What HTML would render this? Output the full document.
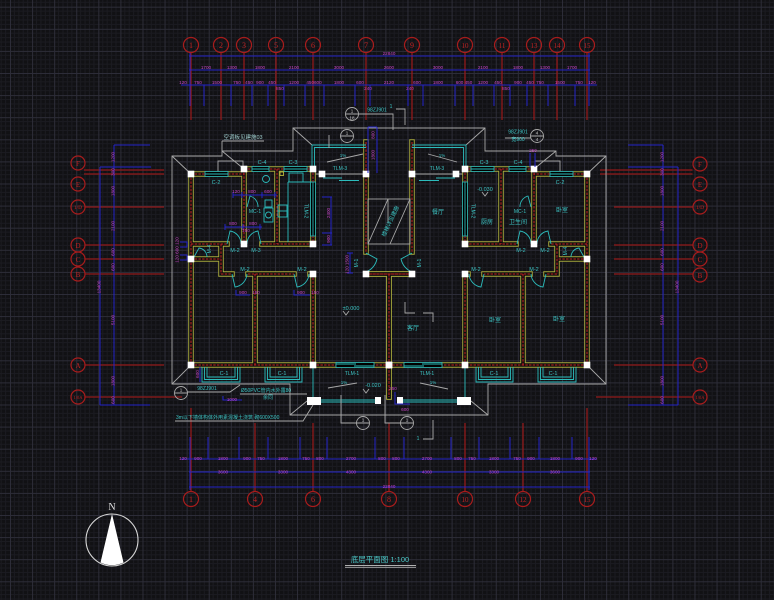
<!DOCTYPE html>
<html><head><meta charset="utf-8">
<style>
html,body{margin:0;padding:0;background:#111114;width:774px;height:600px;overflow:hidden}
svg{display:block}
.ac{fill:none;stroke:#a81c1c;stroke-width:1.2}
.al{stroke:#921a1a;stroke-width:1.3;fill:none}
.at{fill:#c02222;font-family:"Liberation Serif",serif;font-size:8px;text-anchor:middle}
.bl{stroke:#2424c8;stroke-width:1;fill:none}
.mg{fill:#c444c4;font-family:"Liberation Sans",sans-serif;font-size:4.6px;text-anchor:middle}
.cy{fill:#3cc4c4;font-family:"Liberation Sans","Noto Sans CJK SC",sans-serif;font-size:5.5px;text-anchor:middle}
.cw{fill:none;stroke:#2cbcbc;stroke-width:0.9}
.gr{fill:none;stroke:#a8a8a8;stroke-width:0.9}
.gt{fill:#d0d0d0;font-family:"Liberation Sans",sans-serif;font-size:4.5px;text-anchor:middle}
</style></head><body>
<svg width="774" height="600" viewBox="0 0 774 600" xmlns="http://www.w3.org/2000/svg">
<defs>
<pattern id="g" x="10" y="6.7" width="22.08" height="22.1" patternUnits="userSpaceOnUse">
<path d="M4.42,0V22.1M8.83,0V22.1M13.25,0V22.1M17.66,0V22.1M0,4.42H22.08M0,8.84H22.08M0,13.26H22.08M0,17.68H22.08" stroke="#1b1b21" stroke-width="1"/>
<path d="M0.5,0V22.1M0,0.5H22.08" stroke="#2d2d38" stroke-width="1"/>
</pattern>
<path id="wp" d="M191,174V365 M191,174H244 M244,169V244 M244,169H313 M277,169V244 M313,169V244 M313,274V365 M191,244H227 M262,244H313 M221,244V274 M191,259H221 M221,274H232 M248,274H294 M310,274H313 M255,274V365 M191,365H313 M366,142V252 M366,274H412 M389,274V397 M313,365H389"/>
</defs>
<rect width="774" height="600" fill="#111114"/>
<rect width="774" height="600" fill="url(#g)"/>

<!-- ===== Axis: top ===== -->
<g>
<path class="al" d="M191,52.5V120M221,52.5V120M244,52.5V120M276,52.5V120M313,52.5V120M366,52.5V120M412,52.5V120M465,52.5V120M502,52.5V120M534,52.5V120M557,52.5V120M587,52.5V120"/>
<g class="ac">
<circle cx="191" cy="45" r="7.5"/><circle cx="221" cy="45" r="7.5"/><circle cx="244" cy="45" r="7.5"/><circle cx="276" cy="45" r="7.5"/><circle cx="313" cy="45" r="7.5"/><circle cx="366" cy="45" r="7.5"/><circle cx="412" cy="45" r="7.5"/><circle cx="465" cy="45" r="7.5"/><circle cx="502" cy="45" r="7.5"/><circle cx="534" cy="45" r="7.5"/><circle cx="557" cy="45" r="7.5"/><circle cx="587" cy="45" r="7.5"/>
</g>
<g class="at">
<text x="191" y="48">1</text><text x="221" y="48">2</text><text x="244" y="48">3</text><text x="276" y="48">5</text><text x="313" y="48">6</text><text x="366" y="48">7</text><text x="412" y="48">9</text><text x="465" y="48" font-size="7">10</text><text x="502" y="48" font-size="7">11</text><text x="534" y="48" font-size="7">13</text><text x="557" y="48" font-size="7">14</text><text x="587" y="48" font-size="7">15</text>
</g>
</g>

<!-- ===== Axis: bottom ===== -->
<g>
<path class="al" d="M191,408V491.5M255,423V491.5M313,423V491.5M389,423V491.5M465,423V491.5M523,423V491.5M587,408V491.5"/>
<g class="ac">
<circle cx="191" cy="499" r="7.5"/><circle cx="255" cy="499" r="7.5"/><circle cx="313" cy="499" r="7.5"/><circle cx="389" cy="499" r="7.5"/><circle cx="465" cy="499" r="7.5"/><circle cx="523" cy="499" r="7.5"/><circle cx="587" cy="499" r="7.5"/>
</g>
<g class="at">
<text x="191" y="502">1</text><text x="255" y="502">4</text><text x="313" y="502">6</text><text x="389" y="502">8</text><text x="465" y="502" font-size="7">10</text><text x="523" y="502" font-size="7">12</text><text x="587" y="502" font-size="7">15</text>
</g>
</g>

<!-- ===== Axis: left ===== -->
<g>
<path class="al" d="M84,170H164M84,174H164M85.5,207H164M85,245H164M85,259H164M85,274H164M85.5,365H164M85.5,397H182"/>
<g class="ac">
<circle cx="78" cy="163" r="7"/><circle cx="78" cy="184" r="7"/><circle cx="78" cy="207" r="7"/><circle cx="78" cy="245" r="7"/><circle cx="78" cy="259" r="7"/><circle cx="78" cy="274" r="7"/><circle cx="78" cy="365" r="7"/><circle cx="78" cy="397" r="7"/>
</g>
<g class="at" font-size="7">
<text x="78" y="166" font-size="7">F</text><text x="78" y="187" font-size="7">E</text><text x="78" y="209" font-size="5.5">1/D</text><text x="78" y="248" font-size="7">D</text><text x="78" y="262" font-size="7">C</text><text x="78" y="277" font-size="7">B</text><text x="78" y="368" font-size="7">A</text><text x="78" y="399" font-size="4.6">1/0A</text>
</g>
</g>

<!-- ===== Axis: right ===== -->
<g>
<path class="al" d="M600,170H692.5M600,174H692.5M614,207H692.5M614,245H693M614,259H693M614,274H693M614,365H692.5M596,397H692.5"/>
<g class="ac">
<circle cx="700" cy="164" r="7"/><circle cx="700" cy="184" r="7"/><circle cx="700" cy="207" r="7"/><circle cx="700" cy="245" r="7"/><circle cx="700" cy="259" r="7"/><circle cx="700" cy="275" r="7"/><circle cx="700" cy="365" r="7"/><circle cx="700" cy="397" r="7"/>
</g>
<g class="at">
<text x="700" y="167" font-size="7">F</text><text x="700" y="187" font-size="7">E</text><text x="700" y="209" font-size="5.5">1/D</text><text x="700" y="248" font-size="7">D</text><text x="700" y="262" font-size="7">C</text><text x="700" y="278" font-size="7">B</text><text x="700" y="368" font-size="7">A</text><text x="700" y="399" font-size="4.6">1/0A</text>
</g>
</g>

<!-- ===== Dimensions top ===== -->
<path class="bl" d="M189,56H590M189,70H590M181,85H597M190,53V106M589,53V106M204,85V106M231,85V106M252,85V106M268,85V106M284,85V106M305,85V106M324,85V106M355,85V106M370,85V106M408,85V106M423,85V106M455,85V106M473,85V106M494,85V106M510,85V106M527,85V106M548,85V106M575,85V106"/>
<g class="mg">
<text x="389" y="55">22840</text>
<text x="206" y="69">1700</text><text x="232" y="69">1300</text><text x="260" y="69">1800</text><text x="294" y="69">2100</text><text x="339" y="69">3000</text><text x="389" y="69">2600</text><text x="438" y="69">3000</text><text x="483" y="69">2100</text><text x="518" y="69">1800</text><text x="545" y="69">1300</text><text x="572" y="69">1700</text>
<text x="183" y="84">120</text><text x="198" y="84">750</text><text x="217" y="84">1500</text><text x="237" y="84">750</text><text x="249" y="84">450</text><text x="260" y="84">900</text><text x="272" y="84">450</text><text x="294" y="84">1200</text><text x="314" y="84">450600</text><text x="339" y="84">1800</text><text x="360" y="84">600</text><text x="389" y="84">2120</text><text x="417" y="84">600</text><text x="438" y="84">1800</text><text x="464" y="84">600 450</text><text x="483" y="84">1200</text><text x="498" y="84">450</text><text x="518" y="84">900</text><text x="530" y="84">450</text><text x="540" y="84">750</text><text x="560" y="84">1500</text><text x="579" y="84">750</text><text x="592" y="84">120</text>
<text x="280" y="90">850</text><text x="368" y="90">240</text><text x="410" y="90">240</text><text x="506" y="90">850</text>
</g>

<!-- ===== Dimensions bottom ===== -->
<path class="bl" d="M181,459H597M189,472H590M189,487H590M190,437V490M589,437V490M208,437V459M239,437V459M268,437V459M300,437V459M327,437V459M375,437V459M404,437V459M451,437V459M479,437V459M510,437V459M539,437V459M572,437V459"/>
<g class="mg">
<text x="183" y="460">120</text><text x="198" y="460">900</text><text x="223" y="460">1800</text><text x="247" y="460">900</text><text x="261" y="460">750</text><text x="283" y="460">1800</text><text x="306" y="460">750</text><text x="320" y="460">800</text><text x="351" y="460">2700</text><text x="382" y="460">800</text><text x="396" y="460">800</text><text x="427" y="460">2700</text><text x="458" y="460">800</text><text x="472" y="460">750</text><text x="494" y="460">1800</text><text x="517" y="460">750</text><text x="531" y="460">900</text><text x="555" y="460">1800</text><text x="579" y="460">900</text><text x="593" y="460">120</text>
<text x="223" y="473.5">3600</text><text x="283" y="473.5">3300</text><text x="351" y="473.5">4300</text><text x="427" y="473.5">4300</text><text x="494" y="473.5">3300</text><text x="555" y="473.5">3600</text>
<text x="389" y="488">22840</text>
</g>

<!-- ===== Dimensions left / right ===== -->
<path class="bl" d="M100,167V405M114,145V405M114,145H150M100,167H151M100,405H150 M663,145V405M678,167V405M628,145H663M628,167H678M628,405H678"/>
<g class="mg">
<text transform="translate(114.6,157) rotate(-90)">1200</text>
<text transform="translate(114.6,172) rotate(-90)">300</text>
<text transform="translate(114.6,191) rotate(-90)">1800</text>
<text transform="translate(114.6,226) rotate(-90)">2100</text>
<text transform="translate(114.6,252) rotate(-90)">600</text>
<text transform="translate(114.6,267) rotate(-90)">600</text>
<text transform="translate(114.6,320) rotate(-90)">5100</text>
<text transform="translate(114.6,381) rotate(-90)">1800</text>
<text transform="translate(114.6,400) rotate(-90)">600</text>
<text transform="translate(100.6,287) rotate(-90)">13400</text>
<text transform="translate(663.6,157) rotate(-90)">1200</text>
<text transform="translate(663.6,172) rotate(-90)">300</text>
<text transform="translate(663.6,191) rotate(-90)">1800</text>
<text transform="translate(663.6,226) rotate(-90)">2100</text>
<text transform="translate(663.6,252) rotate(-90)">600</text>
<text transform="translate(663.6,267) rotate(-90)">600</text>
<text transform="translate(663.6,320) rotate(-90)">5100</text>
<text transform="translate(663.6,381) rotate(-90)">1800</text>
<text transform="translate(663.6,400) rotate(-90)">600</text>
<text transform="translate(678.6,287) rotate(-90)">13400</text>
</g>

<!-- ===== Roof / outline (gray) ===== -->
<g id="OL" class="gr">
<path d="M389,128H293V151H222V156H172V384H290V415H389 M172,156L191,174 M222,151L244,169 M293,128L312,145 M172,384L191,365 M290,415L307,401"/>
<rect x="218" y="161" width="25" height="12"/>
<path d="M313,174H366"/>
</g>
<use href="#OL" transform="matrix(-1,0,0,1,778,0)"/>

<!-- ===== Walls ===== -->
<g fill="none" stroke-linecap="square">
<use href="#wp" stroke="#a6a83c" stroke-width="5.5"/>
<use href="#wp" stroke="#a6a83c" stroke-width="5.5" transform="matrix(-1,0,0,1,778,0)"/>
<use href="#wp" stroke="#0c0c0d" stroke-width="3.6"/>
<use href="#wp" stroke="#0c0c0d" stroke-width="3.6" transform="matrix(-1,0,0,1,778,0)"/>
<use href="#wp" stroke="#c82222" stroke-width="1" stroke-dasharray="2.5,1.2" stroke-linecap="butt"/>
<use href="#wp" stroke="#c82222" stroke-width="1" stroke-dasharray="2.5,1.2" stroke-linecap="butt" transform="matrix(-1,0,0,1,778,0)"/>
</g>

<!-- ===== Mirrored fixtures: windows, doors, columns ===== -->
<g id="FX">
<g fill="#000" stroke="#2cbcbc" stroke-width="0.8">
<rect x="205" y="171.5" width="23" height="5"/>
<rect x="252" y="166.5" width="17" height="5"/>
<rect x="284" y="166.5" width="23" height="5"/>
<rect x="310.5" y="182" width="5" height="54"/>
<rect x="336" y="362.5" width="38" height="5"/>
</g>
<path class="cw" d="M205,174H228M252,169H269M284,169H307M313,182V236M336,364H356M354,366H374M323,178H342M339,180.5H359"/>
<path class="cw" d="M312,169V145H366M314.5,169V147.5H366"/>
<path class="cw" d="M202,367V382H240V367M204.5,367V379.5H237.5V367M207,367V377H235V367"/>
<path class="cw" d="M265,367V382H302V367M267.5,367V379.5H299.5V367M270,367V377H297V367"/>
<path class="cw" d="M313,367V398M321,400H376M321,402H376"/>
<path class="cw" d="M227,244L230,231A13,13 0 0,1 241,244M261,244L258,231A13,13 0 0,0 247,244M247,207L250,196A11,11 0 0,1 258,207M194,257L199,248A9,9 0 0,1 207,257M232,274L235,287A14,14 0 0,0 247,274M294,274L297,287A14,14 0 0,0 309,274M366,253L377,259A19,19 0 0,1 366,272"/>
<g fill="#fff">
<rect x="187.7" y="170.7" width="6.6" height="6.6"/><rect x="240.7" y="165.7" width="6.6" height="6.6"/><rect x="309.7" y="165.7" width="6.6" height="6.6"/><rect x="318.7" y="170.7" width="6.6" height="6.6"/><rect x="362.7" y="170.7" width="6.6" height="6.6"/>
<rect x="187.7" y="255.7" width="6.6" height="6.6"/><rect x="240.7" y="240.7" width="6.6" height="6.6"/><rect x="309.7" y="240.7" width="6.6" height="6.6"/><rect x="309.7" y="270.7" width="6.6" height="6.6"/><rect x="362.7" y="270.7" width="6.6" height="6.6"/>
<rect x="187.7" y="361.7" width="6.6" height="6.6"/><rect x="309.7" y="361.7" width="6.6" height="6.6"/><rect x="385.7" y="361.7" width="6.6" height="6.6"/>
<rect x="307" y="397" width="14" height="8"/><rect x="375" y="397" width="6" height="7"/>
</g>
</g>
<use href="#FX" transform="matrix(-1,0,0,1,778,0)"/>

<!-- left kitchen / bath fixtures -->
<g class="cw">
<circle cx="266" cy="179" r="3.5"/>
<rect x="265" y="200" width="7" height="7"/>
<rect x="264" y="208" width="9" height="14"/><circle cx="268.5" cy="215" r="3"/>
<rect x="278" y="205" width="9" height="12"/><path d="M278,211H287"/>
<rect x="289" y="173" width="14" height="9"/><path d="M288,182V242M288,182H312"/>
</g>
<rect x="280" y="172" width="3.5" height="3.5" fill="none" stroke="#c8c83c" stroke-width="0.8"/>

<!-- stair -->
<g class="gr">
<rect x="368" y="199" width="42" height="45"/>
<path d="M368,244L388,199M390,244L410,199M388,199V223"/>
</g>
<text class="cy" font-size="4.8" transform="translate(392,222) rotate(-65)">楼梯详见建施</text>

<!-- interior blue dims -->
<path class="bl" d="M233,195H277M233,192V198M242,192V198M262,192V198M275,192V198 M225,227H262M225,224V230M243,224V230M260,224V230 M180,242H187V247H180M180,255H187V260H180 M236,290V295H250M294,290V295H310 M223,396V400H242 M200,367V382 M331,197V245M322,197H332M322,233H332M322,245H332 M368,127V173M377,127V173M368,127H377 M350,253V273M347,253H353M347,273H353 M530,153V167M535,153V167 M395,392V404H410"/>
<g class="mg">
<text x="236" y="193">120</text><text x="252" y="193">800</text><text x="268" y="193">600</text>
<text x="233" y="225">800</text><text x="253" y="225">800</text><text x="246" y="232">150</text>
<text transform="translate(178.5,250) rotate(-90)">120 600 120</text>
<text x="243" y="294">900</text><text x="256" y="294">150</text><text x="301" y="294">900</text><text x="315" y="294">150</text>
<text x="232" y="401">1000</text>
<text transform="translate(199,374) rotate(-90)">600</text>
<text transform="translate(330,213) rotate(-90)">2400</text>
<text transform="translate(330,239) rotate(-90)">900</text>
<text transform="translate(374.5,135) rotate(-90)">800</text>
<text transform="translate(374.5,155) rotate(-90)">1800</text>
<text transform="translate(348.5,260) rotate(-90)">1500</text>
<text transform="translate(348.5,270) rotate(-90)">120</text>
<text x="533" y="152">250</text>
<text x="393" y="390">250</text><text x="405" y="411">600</text>
</g>

<!-- markers / leaders -->
<g class="gr">
<circle cx="352" cy="114" r="6.5"/><path d="M345.5,114H358.5M358.5,114H393V130M396,109H405V125"/>
<circle cx="347" cy="136" r="6.5"/><path d="M340.5,136H353.5M329,135V148"/>
<circle cx="537" cy="136" r="6.5"/><path d="M530.5,136H543.5M505,138H530.5"/>
<circle cx="181" cy="393" r="6.5"/><path d="M174.5,393H187.5M187.5,392H230L240,385"/>
<circle cx="363" cy="423" r="6.5"/><path d="M356.5,423H369.5M341,395V423H356.5"/>
<circle cx="407" cy="423" r="6.5"/><path d="M400.5,423H413.5M385,395V423H400.5"/>
<path d="M423,439H433V420"/>
<path d="M222,141H264M222,141V151"/>
<path d="M175,421H303L313,405"/>
<path d="M240,394H307"/>
<path d="M328,388L357,383M420,383L448,389M327,162L363,154M428,154L457,162"/>
<path d="M405,302V313H415M423,313H433V322"/>
<path d="M343,311L346,315L349,311M482,192L485,196L488,192M363,389L366,393L369,389"/>
</g>
<g class="gt">
<text x="352" y="112.5">1</text><text x="352" y="119.5">18</text>
<text x="347" y="134.5">1</text>
<text x="537" y="134.5">4</text><text x="537" y="141">4</text>
<text x="181" y="391.5">1</text>
<text x="363" y="421.5">1</text><text x="407" y="421.5">1</text>
</g>

<!-- labels -->
<g class="cy">
<text x="243" y="139" fill="#9ccaca">空调板见建施03</text>
<text x="377" y="111.5" font-size="5">98ZJ901</text><text x="391" y="108" font-size="5">1</text>
<text x="518" y="133.5" font-size="5">98ZJ901</text><text x="518" y="141" font-size="5">宽900</text>
<text x="262" y="164">C-4</text><text x="293" y="164">C-3</text><text x="216" y="184">C-2</text>
<text x="255" y="213" font-size="5">MC-1</text>
<text transform="translate(304.5,211) rotate(90)" font-size="5">TLM-2</text>
<text x="235" y="252">M-2</text><text x="256" y="252">M-3</text>
<text transform="translate(211,249) rotate(-90)" font-size="5">M-4</text>
<text x="340" y="170" font-size="5">TLM-3</text><text x="437" y="170" font-size="5">TLM-3</text>
<text x="245" y="271">M-2</text><text x="302" y="271">M-2</text>
<text transform="translate(358,263) rotate(-90)" font-size="5">M-1</text>
<text transform="translate(421,263) rotate(-90)" font-size="5">M-1</text>
<text x="351" y="310">±0.000</text>
<text x="352" y="375" font-size="5">TLM-1</text><text x="427" y="375" font-size="5">TLM-1</text>
<text x="224" y="375">C-1</text><text x="282" y="375">C-1</text><text x="494" y="375">C-1</text><text x="553" y="375">C-1</text>
<text x="373" y="387">-0.020</text>
<text x="344" y="384" font-size="4.5">1%</text><text x="433" y="384" font-size="4.5">1%</text>
<text x="343" y="157" font-size="4.5">1%</text><text x="442" y="157" font-size="4.5">1%</text>
<text x="207" y="390" font-size="5">98ZJ901</text>
<text x="266" y="392" font-size="5">Ø50PVC管内水外露80</text>
<text x="268" y="399" font-size="5">余同</text>
<text x="176" y="419" font-size="5" text-anchor="start">3m以下墙体构体外用素混凝土浇筑 砌600X500</text>
<text x="418" y="440" font-size="5">1</text>
<text x="484" y="164">C-3</text><text x="518" y="164">C-4</text><text x="560" y="184">C-2</text>
<text x="485" y="191">-0.030</text>
<text x="487" y="224" font-size="6">厨房</text>
<text x="520" y="213" font-size="5">MC-1</text>
<text x="518" y="224" font-size="6">卫生间</text>
<text x="562" y="212" font-size="6">卧室</text>
<text x="521" y="252">M-2</text><text x="545" y="252">M-2</text>
<text transform="translate(567,251) rotate(-90)" font-size="5">M-4</text>
<text transform="translate(471.5,211) rotate(90)" font-size="5">TLM-2</text>
<text x="438" y="214" font-size="6">餐厅</text>
<text x="413" y="330" font-size="6">客厅</text>
<text x="476" y="271">M-2</text><text x="534" y="271">M-2</text>
<text x="495" y="322" font-size="6">卧室</text><text x="559" y="321" font-size="6">卧室</text>
</g>

<!-- north arrow -->
<circle cx="112" cy="540" r="26" fill="none" stroke="#d8d8d8" stroke-width="1.1"/>
<path d="M112,514L100.5,562.5A26,26 0 0,0 123.5,562.5Z" fill="#fff"/>
<text x="112" y="510" fill="#e0e0e0" font-family="Liberation Serif,serif" font-size="10" text-anchor="middle">N</text>

<!-- title -->
<text x="380" y="562" fill="#4cc8c8" font-family="Liberation Sans,Noto Sans CJK SC,sans-serif" font-size="7.5" text-anchor="middle">底层平面图 1:100</text>
<path d="M345,565.5H416M345,567.3H416" stroke="#b0b0b0" stroke-width="0.9"/>
</svg>
</body></html>
